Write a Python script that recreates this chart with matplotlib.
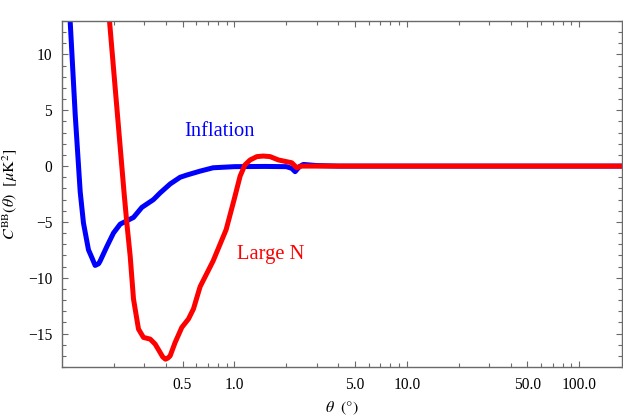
import matplotlib
matplotlib.use("Agg")
import matplotlib.pyplot as plt
from matplotlib.ticker import FixedLocator, FixedFormatter, NullFormatter

plt.rcParams['font.family'] = ['Liberation Serif', 'DejaVu Serif']
plt.rcParams['mathtext.fontset'] = 'stix'

# Inflation (blue)
theta_inf = [0.109, 0.1115, 0.1193, 0.1275, 0.1332, 0.1424, 0.149, 0.1557, 0.163, 0.1665,
             0.1821, 0.1988, 0.2175, 0.2377, 0.2598, 0.2905, 0.3392, 0.3709, 0.4239,
             0.4844, 0.5298, 0.6326, 0.7524, 1.0, 1.5, 2.0, 2.15, 2.25, 2.38, 2.51, 3.0,
             4.0, 10.0, 180.0]
cbb_inf = [16.0, 13.0, 4.6, -2.3, -5.1, -7.5, -8.2, -8.9, -8.75, -8.5,
           -7.2, -6.0, -5.2, -4.9, -4.6, -3.7, -3.0, -2.4, -1.6,
           -1.0, -0.8, -0.45, -0.15, -0.05, -0.03, -0.05, -0.2, -0.5, -0.05, 0.15, 0.05,
           0.0, 0.0, 0.0]

# Large N (red)
theta_ln = [0.1815, 0.1886, 0.2294, 0.2377, 0.2485, 0.2598, 0.2777, 0.2969, 0.3246,
            0.3470, 0.3709, 0.384, 0.3981, 0.411, 0.4239, 0.4531, 0.4955, 0.5413, 0.5786,
            0.6326, 0.7524, 0.895, 0.996, 1.079, 1.15, 1.233, 1.35, 1.47, 1.61, 1.8,
            2.0, 2.15, 2.3, 2.45, 2.75, 10.0, 180.0]
cbb_ln = [16.0, 13.0, -2.5, -5.1, -8.05, -11.9, -14.6, -15.35, -15.5,
          -15.95, -16.7, -17.1, -17.3, -17.2, -17.0, -15.8, -14.45, -13.7, -12.8,
          -10.8, -8.5, -5.7, -3.0, -0.9, 0.1, 0.55, 0.85, 0.9, 0.85, 0.55,
          0.4, 0.3, -0.15, 0.0, 0.0, 0.0, 0.0]

x_major = [0.5, 1.0, 5.0, 10.0, 50.0, 100.0]
x_major_labels = ["0.5", "1.0", "5.0", "10.0", "50.0", "100.0"]
x_minor = [0.2, 0.3, 0.4, 0.6, 0.7, 0.8, 0.9, 2, 3, 4, 6, 7, 8, 9,
           20, 30, 40, 60, 70, 80, 90]
y_major = [-15, -10, -5, 0, 5, 10]
y_major_labels = ["\u221215", "\u221210", "\u22125", "0", "5", "10"]
y_minor = [v for v in range(-18, 14) if v % 5 != 0]

fig = plt.figure(figsize=(6.23, 4.17), dpi=100)
ax = fig.add_axes([62/623, 50/417, 560/623, 346/417])

ax.plot(theta_inf, cbb_inf, color='#0000ff', lw=3.6, solid_capstyle='round',
        solid_joinstyle='round')
ax.plot(theta_ln, cbb_ln, color='#ff0000', lw=3.6, solid_capstyle='round',
        solid_joinstyle='round')

ax.set_xscale('log')
ax.set_xlim(0.1, 177)
ax.set_ylim(-18, 13)

ax.xaxis.set_major_locator(FixedLocator(x_major))
ax.xaxis.set_major_formatter(FixedFormatter(x_major_labels))
ax.xaxis.set_minor_locator(FixedLocator(x_minor))
ax.xaxis.set_minor_formatter(NullFormatter())
ax.yaxis.set_major_locator(FixedLocator(y_major))
ax.yaxis.set_major_formatter(FixedFormatter(y_major_labels))
ax.yaxis.set_minor_locator(FixedLocator(y_minor))

for s in ax.spines.values():
    s.set_color('#6a6a6a')
    s.set_linewidth(1.0)

ax.tick_params(which='both', direction='in', top=True, right=True,
               color='#6a6a6a', labelsize=11.2, pad=7)
ax.tick_params(which='major', length=4.5, width=0.8)
ax.tick_params(which='minor', length=2.8, width=0.8)

ax.text(0.821, 3.13, "Inflation", color='#0000ff', fontsize=14.8,
        ha='center', va='center')
ax.text(1.628, -7.9, "Large N", color='#ff0000', fontsize=14.8,
        ha='center', va='center')

ax.set_ylabel(r"$C^{\rm BB}(\theta)\ \ [\mu{\rm K}^2]$", fontsize=11.5)
ax.yaxis.set_label_coords(-0.075, 0.5)
ax.set_xlabel(r"$\theta\ \ (°)$", fontsize=11.5)
ax.xaxis.set_label_coords(0.5, -0.095)

fig.savefig("out.png", dpi=100)
